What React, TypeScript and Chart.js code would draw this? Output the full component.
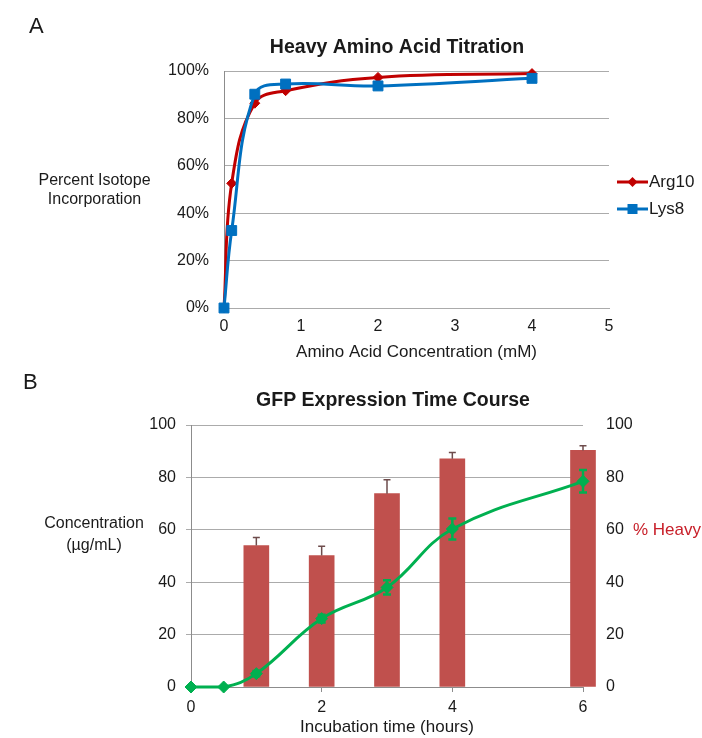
import React, { useEffect, useRef } from 'react';
import { Chart, registerables } from 'chart.js';

Chart.register(...registerables);

const FONT = "'Liberation Sans', Arial, Helvetica, sans-serif";

// ---------- Panel A data ----------
const panelA = 'A';
const titleA = 'Heavy Amino Acid Titration';
const xTitleA = 'Amino Acid Concentration (mM)';
const yTitleA = ['Percent Isotope', 'Incorporation'];
const xTicksA = [0, 1, 2, 3, 4, 5];
const yTicksA = [0, 20, 40, 60, 80, 100];
const argLabel = 'Arg10';
const lysLabel = 'Lys8';
const concArg = [0, 0.1, 0.4, 0.8, 2, 4];
const arg10 = [0, 52.6, 86.4, 91.7, 97.3, 98.9];
const concLys = [0, 0.1, 0.4, 0.8, 2, 4];
const lys8 = [0, 32.7, 90.2, 94.5, 93.7, 96.9];

// ---------- Panel B data ----------
const panelB = 'B';
const titleB = 'GFP Expression Time Course';
const xTitleB = 'Incubation time (hours)';
const yTitleB = ['Concentration', '(µg/mL)'];
const y2TitleB = '% Heavy';
const xTicksB = [0, 2, 4, 6];
const yTicksB = [0, 20, 40, 60, 80, 100];
const barHours = [1, 2, 3, 4, 6];
const gfpConc = [54.0, 50.2, 73.8, 87.1, 90.3];
const gfpErr = [3.1, 3.5, 5.3, 2.4, 1.8];
const heavyHours = [0, 0.5, 1, 2, 3, 4, 6];
const heavyPct = [0, 0, 5.1, 26.1, 38.0, 60.3, 78.5];
const heavyErr = [0, 0, 1.0, 1.5, 2.7, 4.0, 4.3];

const RED = '#C00000';
const BLUE = '#0070C0';
const BAR = '#C0504D';
const GREEN = '#00B050';
const TXT = '#1a1a1a';
const GRID = '#ABABAB';
const AXIS = '#8C8C8C';

type TextItem = {
  text: string;
  x: number;
  y: number;
  size: number;
  bold?: boolean;
  color?: string;
  align?: CanvasTextAlign;
  baseline?: CanvasTextBaseline;
};

const textPlugin = (id: string, items: TextItem[]) => ({
  id,
  afterDraw(chart: any) {
    const ctx = chart.ctx as CanvasRenderingContext2D;
    ctx.save();
    items.forEach((t) => {
      ctx.font = `${t.bold ? 'bold ' : ''}${t.size}px ${FONT}`;
      ctx.fillStyle = t.color || TXT;
      ctx.textAlign = t.align || 'center';
      ctx.textBaseline = t.baseline || 'middle';
      ctx.fillText(t.text, t.x, t.y);
    });
    ctx.restore();
  },
});

const legendPlugin = {
  id: 'lineLegend',
  afterDraw(chart: any) {
    const ctx = chart.ctx as CanvasRenderingContext2D;
    const x0 = 617;
    const x1 = 648;
    const ys = [182, 209];
    ctx.save();
    chart.data.datasets.forEach((ds: any, i: number) => {
      const y = ys[i];
      ctx.strokeStyle = ds.borderColor;
      ctx.lineWidth = 3;
      ctx.beginPath();
      ctx.moveTo(x0, y);
      ctx.lineTo(x1, y);
      ctx.stroke();
      ctx.fillStyle = ds.borderColor;
      const cx = (x0 + x1) / 2;
      if (ds.pointStyle === 'rect') {
        ctx.fillRect(cx - 5, y - 5, 10, 10);
      } else {
        ctx.beginPath();
        ctx.moveTo(cx, y - 5);
        ctx.lineTo(cx + 5, y);
        ctx.lineTo(cx, y + 5);
        ctx.lineTo(cx - 5, y);
        ctx.closePath();
        ctx.fill();
      }
      ctx.font = `17px ${FONT}`;
      ctx.fillStyle = TXT;
      ctx.textAlign = 'left';
      ctx.textBaseline = 'middle';
      ctx.fillText(ds.label, x1 + 1, y);
    });
    ctx.restore();
  },
};

type ErrSet = { index: number; xs: number[]; ys: number[]; err: number[]; axis: string; upperOnly: boolean; color: string; width: number; cap: number };

const errorBarPlugin = (sets: ErrSet[]) => ({
  id: 'errorBars',
  afterDatasetDraw(chart: any, args: any) {
    const set = sets.find((s) => s.index === args.index);
    if (!set) return;
    const ctx = chart.ctx as CanvasRenderingContext2D;
    const xs = chart.scales.x;
    const ys = chart.scales[set.axis];
    ctx.save();
    ctx.strokeStyle = set.color;
    ctx.lineWidth = set.width;
    set.xs.forEach((xv, i) => {
      const e = set.err[i];
      if (!e) return;
      const px = xs.getPixelForValue(xv);
      const top = ys.getPixelForValue(set.ys[i] + e);
      const bot = set.upperOnly ? ys.getPixelForValue(set.ys[i]) : ys.getPixelForValue(set.ys[i] - e);
      ctx.beginPath();
      ctx.moveTo(px, top);
      ctx.lineTo(px, bot);
      ctx.moveTo(px - set.cap, top);
      ctx.lineTo(px + set.cap, top);
      if (!set.upperOnly) {
        ctx.moveTo(px - set.cap, bot);
        ctx.lineTo(px + set.cap, bot);
      }
      ctx.stroke();
    });
    ctx.restore();
  },
});

function ChartA() {
  const ref = useRef<HTMLCanvasElement>(null);
  useEffect(() => {
    if (!ref.current) return;
    const chart = new Chart(ref.current, {
      type: 'line',
      data: {
        datasets: [
          {
            label: argLabel,
            data: concArg.map((x, i) => ({ x, y: arg10[i] })),
            borderColor: RED,
            backgroundColor: RED,
            borderWidth: 3,
            pointStyle: 'rectRot',
            pointRadius: 5,
            pointBorderWidth: 1,
            tension: 0.4,
            clip: false,
            order: 1,
          } as any,
          {
            label: lysLabel,
            data: concLys.map((x, i) => ({ x, y: lys8[i] })),
            borderColor: BLUE,
            backgroundColor: BLUE,
            borderWidth: 3,
            pointStyle: 'rect',
            pointRadius: 7,
            pointBorderWidth: 1,
            tension: 0.4,
            clip: false,
            order: 0,
          } as any,
        ],
      },
      options: {
        responsive: false,
        animation: false,
        layout: { padding: { top: 71, right: 93, left: 0, bottom: 0 } },
        plugins: { legend: { display: false }, tooltip: { enabled: false }, title: { display: false } },
        scales: {
          x: {
            type: 'linear',
            min: xTicksA[0],
            max: xTicksA[xTicksA.length - 1],
            afterBuildTicks: (s: any) => { s.ticks = xTicksA.map((v) => ({ value: v })); },
            ticks: { padding: 9, font: { size: 16, family: FONT }, color: TXT },
            grid: { display: false, drawTicks: false },
            border: { display: true, color: GRID },
            title: { display: true, text: xTitleA, font: { size: 17, family: FONT }, color: TXT, padding: { top: 0, bottom: 7 } },
            afterFit: (s: any) => { s.height = 62; },
          },
          y: {
            type: 'linear',
            min: yTicksA[0],
            max: yTicksA[yTicksA.length - 1],
            afterBuildTicks: (s: any) => { s.ticks = yTicksA.map((v) => ({ value: v })); },
            ticks: { padding: 15, font: { size: 16, family: FONT }, color: TXT, callback: (v: any) => `${v}%` },
            grid: { color: GRID, drawTicks: false, lineWidth: 1 },
            border: { display: true, color: AXIS },
            afterFit: (s: any) => { s.width = 224; },
          },
        },
      } as any,
      plugins: [
        legendPlugin,
        textPlugin('textsA', [
          { text: panelA, x: 29, y: 33, size: 22, align: 'left', baseline: 'alphabetic' },
          { text: titleA, x: 397, y: 53, size: 19.5, bold: true, baseline: 'alphabetic' },
          { text: yTitleA[0], x: 94.5, y: 181, size: 16 },
          { text: yTitleA[1], x: 94.5, y: 199.5, size: 16 },
        ]),
      ],
    });
    return () => chart.destroy();
  }, []);
  return <canvas ref={ref} width={702} height={370} style={{ position: 'absolute', left: 0, top: 0, display: 'block' }} />;
}

function ChartB() {
  const ref = useRef<HTMLCanvasElement>(null);
  useEffect(() => {
    if (!ref.current) return;
    const chart = new Chart(ref.current, {
      type: 'bar',
      data: {
        datasets: [
          {
            type: 'line',
            label: y2TitleB,
            data: heavyHours.map((x, i) => ({ x, y: heavyPct[i] })),
            yAxisID: 'y2',
            borderColor: GREEN,
            backgroundColor: GREEN,
            borderWidth: 3,
            pointStyle: 'rectRot',
            pointRadius: 6,
            pointBorderWidth: 1,
            tension: 0.4,
            clip: false,
            order: 0,
          } as any,
          {
            type: 'bar',
            label: 'GFP',
            data: barHours.map((x, i) => ({ x, y: gfpConc[i] })),
            yAxisID: 'y',
            backgroundColor: BAR,
            barThickness: 25,
            clip: false,
            order: 1,
          } as any,
        ],
      },
      options: {
        responsive: false,
        animation: false,
        layout: { padding: { top: 55, right: 0, left: 0, bottom: 0 } },
        plugins: { legend: { display: false }, tooltip: { enabled: false }, title: { display: false } },
        scales: {
          x: {
            type: 'linear',
            min: xTicksB[0],
            max: xTicksB[xTicksB.length - 1],
            offset: false,
            afterBuildTicks: (s: any) => { s.ticks = xTicksB.map((v) => ({ value: v })); },
            ticks: { padding: 6, font: { size: 16, family: FONT }, color: TXT },
            grid: { display: true, drawOnChartArea: false, offset: false, tickLength: 5, color: AXIS },
            border: { display: true, color: AXIS },
            title: { display: true, text: xTitleB, font: { size: 17, family: FONT }, color: TXT, padding: { top: 0, bottom: 0 } },
            afterFit: (s: any) => { s.height = 51; },
          },
          y: {
            type: 'linear',
            position: 'left',
            min: yTicksB[0],
            max: yTicksB[yTicksB.length - 1],
            afterBuildTicks: (s: any) => { s.ticks = yTicksB.map((v) => ({ value: v })); },
            ticks: { padding: 10, font: { size: 16, family: FONT }, color: TXT },
            grid: { color: GRID, tickLength: 5, lineWidth: 1 },
            border: { display: true, color: AXIS },
            afterFit: (s: any) => { s.width = 191; },
          },
          y2: {
            type: 'linear',
            position: 'right',
            min: yTicksB[0],
            max: yTicksB[yTicksB.length - 1],
            afterBuildTicks: (s: any) => { s.ticks = yTicksB.map((v) => ({ value: v })); },
            ticks: { padding: 15, font: { size: 16, family: FONT }, color: TXT },
            grid: { display: false },
            border: { display: false },
            afterFit: (s: any) => { s.width = 119; },
          },
        },
      } as any,
      plugins: [
        errorBarPlugin([
          { index: 1, xs: barHours, ys: gfpConc, err: gfpErr, axis: 'y', upperOnly: true, color: '#6E4C4C', width: 1.5, cap: 3.5 },
          { index: 0, xs: heavyHours, ys: heavyPct, err: heavyErr, axis: 'y2', upperOnly: false, color: GREEN, width: 2.5, cap: 4 },
        ]),
        textPlugin('textsB', [
          { text: panelB, x: 23, y: 19, size: 22, align: 'left', baseline: 'alphabetic' },
          { text: titleB, x: 393, y: 36, size: 19.5, bold: true, baseline: 'alphabetic' },
          { text: yTitleB[0], x: 94, y: 154, size: 16 },
          { text: yTitleB[1], x: 94, y: 175.5, size: 16 },
          { text: y2TitleB, x: 633, y: 160, size: 17, align: 'left', color: '#C8202A' },
        ]),
      ],
    });
    return () => chart.destroy();
  }, []);
  return <canvas ref={ref} width={702} height={368} style={{ position: 'absolute', left: 0, top: 370, display: 'block' }} />;
}

export default function App() {
  return (
    <div style={{ position: 'absolute', left: 0, top: 0, width: 702, height: 738, background: '#ffffff', overflow: 'hidden' }}>
      <ChartA />
      <ChartB />
    </div>
  );
}
